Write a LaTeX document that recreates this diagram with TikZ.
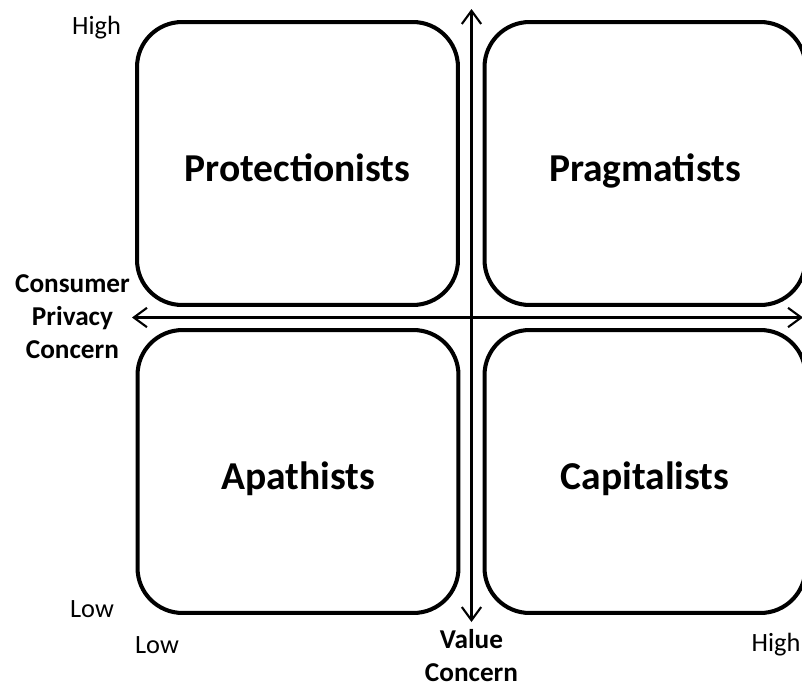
\documentclass[tikz,border=0pt]{standalone}
\usepackage{fontspec}
\setmainfont{Carlito}
\usetikzlibrary{arrows.meta}
\tikzset{
  quadrant/.style={draw, line width=2.3pt, rounded corners=0.9cm,
    minimum width=6.42cm, minimum height=5.66cm,
    text height=22pt, text depth=2pt,
    font=\fontsize{22.5}{27}\selectfont\bfseries},
  axis/.style={line width=1.2pt,
    {Straight Barb[length=7.5pt,width=11pt]}-{Straight Barb[length=7.5pt,width=11pt]}},
  level/.style={font=\fontsize{15}{18}\selectfont},
  axislabel/.style={align=center, font=\fontsize{15.5}{18.7}\selectfont\bfseries}
}
\begin{document}
\begin{tikzpicture}[x=0.02cm, y=-0.02cm] %1 unit = 1 pixel, y downwards
  \useasboundingbox (0,0) rectangle (802,683);
	%Quadrantes
  \node[quadrant] (prot) at (297.5,163.5) {Protectionists};
  \node[quadrant] (prag) at (645,163.5) {Pragmatists};
  \node[quadrant] (apat) at (298,471.5) {Apathists};
  \node[quadrant] (capi) at (645,471.5) {Capitalists};
	%Eixos
  \coordinate (top) at (471.5,9);
  \coordinate (bottom) at (471.5,622);
  \coordinate (left) at (132,317.5);
  \coordinate (right) at (803,317.5);
  \draw[axis] (bottom) -- (top); %Eixo vertical
  \draw[axis] (left) -- (right); %Eixo horizontal
	%Rotulos
  \node[level] (yhigh) at (96.5,28) {High};
  \node[level] (ylow) at (92,609) {Low};
  \node[level] (xlow) at (157,645) {Low};
  \node[level] (xhigh) at (776,645) {High};
  \node[axislabel, anchor=east] (yname) at (136,317) {Consumer\\Privacy\\Concern};
  \node[axislabel, anchor=north] (xname) at (471.5,623) {Value\\Concern};
\end{tikzpicture}
\end{document}
